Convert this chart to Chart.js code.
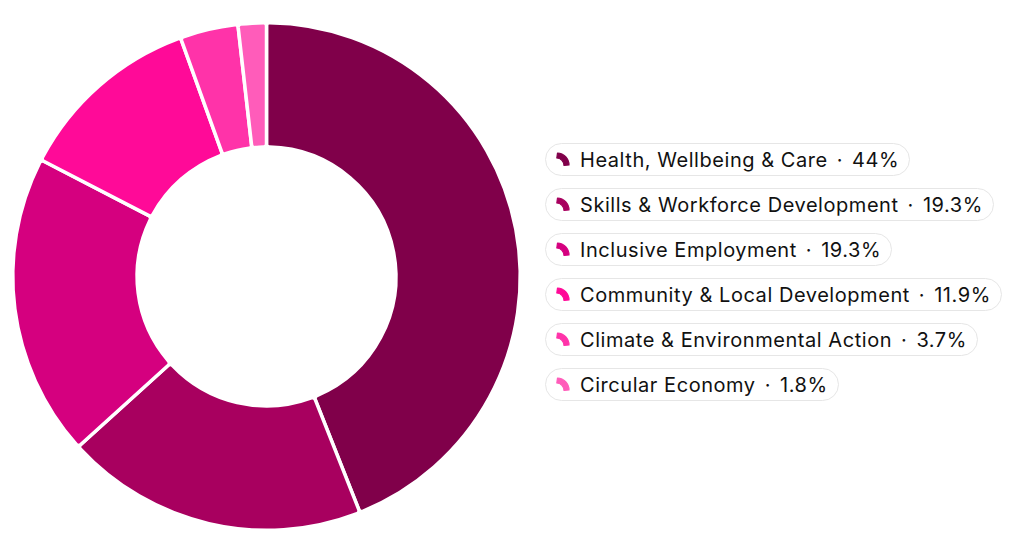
<!DOCTYPE html>
<html>
<head>
<meta charset="utf-8">
<script src="https://cdn.jsdelivr.net/npm/chart.js@4.4.1/dist/chart.umd.min.js"></script>
<style>
  html, body { margin:0; padding:0; background:#fff; width:1030px; height:544px; overflow:hidden; font-family: Inter, "Noto Sans", sans-serif; }
  #wrap { position:absolute; left:0; top:0; width:533px; height:544px; }
  #legend { position:absolute; left:545px; top:143px; }
  .item { display:flex; align-items:center; height:31px; border:1px solid #e6e6e6; border-radius:17px; padding:0 10px 0 10px; margin-bottom:12px; width:max-content; font-size:20px; color:#111; letter-spacing:0.55px; }
  .item svg { margin-right:10px; flex:none; }
  .sep { margin:0 9px 0 9px; }
</style>
</head>
<body>
<div id="wrap"><canvas id="c"></canvas></div>
<div id="legend"></div>
<script>
const categories = ["Health, Wellbeing & Care", "Skills & Workforce Development", "Inclusive Employment", "Community & Local Development", "Climate & Environmental Action", "Circular Economy"];
const values = [44, 19.3, 19.3, 11.9, 3.7, 1.8];
const colors = ["#80004a", "#a8005f", "#d5007f", "#ff0a98", "#ff33a9", "#ff5cba"];

new Chart(document.getElementById('c'), {
  type: 'doughnut',
  data: { labels: categories, datasets: [{ data: values, backgroundColor: colors, borderColor: '#ffffff', borderWidth: 3.5, borderRadius: 3, hoverOffset: 0 }] },
  options: {
    responsive: true, maintainAspectRatio: false, animation: false,
    cutout: '51%',
    layout: { padding: { top: 21, bottom: 12, left: 0, right: 0 } },
    plugins: { legend: { display: false }, tooltip: { enabled: false } }
  }
});

const leg = document.getElementById('legend');
categories.forEach((c, i) => {
  const d = document.createElement('div');
  d.className = 'item';
  const svg = '<svg width="14" height="15" viewBox="0 0 14 15"><path d="M1.5 1 A12 12 0 0 1 13 13 L8 13.5 A7.5 7.5 0 0 0 0.8 6 Z" fill="' + colors[i] + '" stroke="' + colors[i] + '" stroke-width="1.2" stroke-linejoin="round"/></svg>';
  d.innerHTML = svg + '<span>' + c.replace(/&/g, '&amp;') + '</span><span class="sep">·</span><span>' + values[i] + '%</span>';
  leg.appendChild(d);
});
</script>
</body>
</html>
